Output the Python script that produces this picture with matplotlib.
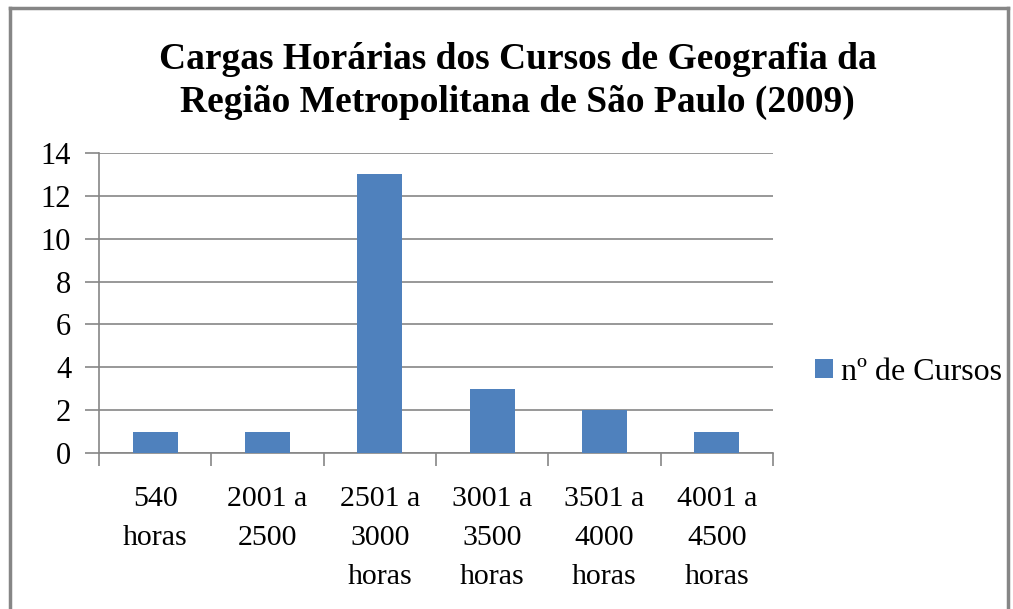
import matplotlib.pyplot as plt
from matplotlib.lines import Line2D

categories = ['540\nhoras', '2001 a\n2500', '2501 a\n3000\nhoras',
              '3001 a\n3500\nhoras', '3501 a\n4000\nhoras', '4001 a\n4500\nhoras']
values = [1, 1, 13, 3, 2, 1]
yticks = [0, 2, 4, 6, 8, 10, 12, 14]

plt.rcParams['font.family'] = ['Liberation Serif', 'DejaVu Serif']

fig = plt.figure(figsize=(10.13, 6.09), dpi=100)
ax = fig.add_axes([0.0977, 0.256, 0.6653, 0.493])

x = list(range(len(categories)))
ax.bar(x, values, width=0.4, color='#4F81BD', label='nº de Cursos', zorder=3)

ax.set_xlim(-0.5, len(categories) - 0.5)
ax.set_ylim(0, 14)
ax.set_yticks(yticks)
ax.set_yticklabels([str(v) for v in yticks], fontsize=22)
ax.yaxis.grid(True, color='#868686', linewidth=1.2, zorder=0)

ax.set_xticks(x)
ax.set_xticklabels(categories, fontsize=21.5, linespacing=1.65)
ax.set_xticks([i - 0.5 for i in range(len(categories) + 1)], minor=True)
ax.tick_params(axis='x', which='major', length=0, pad=24)
ax.tick_params(axis='x', which='minor', length=9, color='#868686', width=1.2)
ax.tick_params(axis='y', length=10, color='#868686', width=1.2, pad=10)

for s in ['top', 'right']:
    ax.spines[s].set_visible(False)
for s in ['left', 'bottom']:
    ax.spines[s].set_color('#868686')
    ax.spines[s].set_linewidth(1.2)

fig.text(0.511, 1 - 81 / 609,
         'Cargas Horárias dos Cursos de Geografia da\nRegião Metropolitana de São Paulo (2009)',
         fontsize=27, fontweight='bold', ha='center', va='center', linespacing=1.3)

fig.legend(loc='center left', bbox_to_anchor=(0.805, 0.389), frameon=False,
           fontsize=23, handlelength=0.55, handleheight=0.55, handletextpad=0.25,
           borderaxespad=0, borderpad=0)

# outer chart border
for xs, ys in [([0.01, 0.01], [0.0, 0.987]), ([0.01, 0.995], [0.987, 0.987]),
               ([0.995, 0.995], [0.0, 0.987])]:
    fig.add_artist(Line2D(xs, ys, color='#868686', linewidth=2.5, transform=fig.transFigure))

fig.savefig('out.png', dpi=100)
